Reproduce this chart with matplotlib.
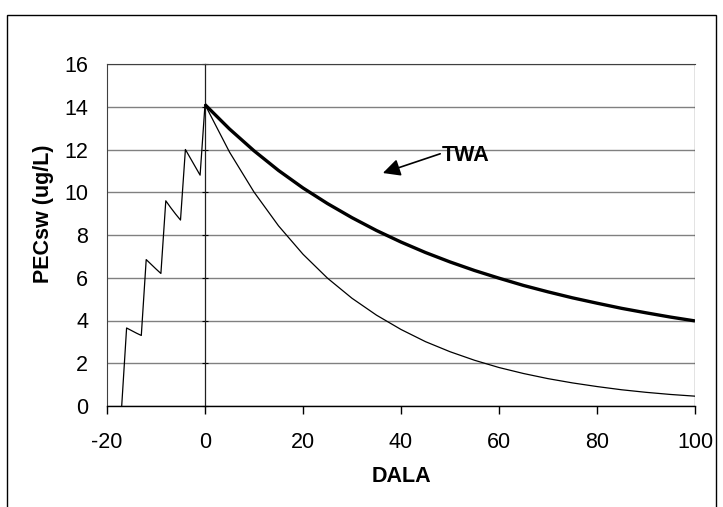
import matplotlib
matplotlib.use("Agg")
import matplotlib.pyplot as plt
from matplotlib.patches import Rectangle

plt.rcParams['font.family'] = ['Liberation Sans', 'DejaVu Sans']

# PEC in surface water: application phase (daily) and decline phase (every 5 days)
days_pre = [-17, -16, -15, -14, -13, -12, -11, -10, -9, -8, -7, -6, -5, -4, -3, -2, -1, 0]
pec_pre = [0.0, 3.65, 3.53, 3.41, 3.30, 6.85, 6.63, 6.41, 6.20, 9.60, 9.28, 8.98, 8.70,
           12.00, 11.60, 11.20, 10.80, 14.10]
days_post = [0, 5, 10, 15, 20, 25, 30, 35, 40, 45, 50, 55, 60, 65, 70, 75, 80, 85, 90, 95, 100]
pec_post = [14.10, 11.88, 10.01, 8.43, 7.10, 5.98, 5.04, 4.25, 3.58, 3.01, 2.54, 2.14, 1.80,
            1.52, 1.28, 1.08, 0.91, 0.76, 0.64, 0.54, 0.46]
twa = [14.10, 12.96, 11.94, 11.02, 10.20, 9.47, 8.81, 8.21, 7.67, 7.18, 6.74, 6.34, 5.98,
       5.64, 5.34, 5.06, 4.81, 4.57, 4.36, 4.16, 3.98]

x_ticks = [-20, 0, 20, 40, 60, 80, 100]
y_ticks = [0, 2, 4, 6, 8, 10, 12, 14, 16]

FS = 15.5

fig = plt.figure(figsize=(7.23, 5.07), dpi=100)
ax = fig.add_axes([107/723, 1-406/507, (695-107)/723, (406-64)/507])

ax.set_xlim(-20, 100)
ax.set_ylim(0, 16)
ax.set_xticks(x_ticks)
ax.set_yticks(y_ticks)
ax.set_xticklabels([str(v) for v in x_ticks])
ax.set_yticklabels([str(v) for v in y_ticks])

ax.grid(axis='y', color='#808080', linewidth=1.0)
ax.grid(axis='x', visible=False)
ax.set_axisbelow(True)

# borders
ax.spines['top'].set_color('#404040')
ax.spines['top'].set_linewidth(0.8)
ax.spines['left'].set_color('#404040')
ax.spines['left'].set_linewidth(0.8)
ax.spines['bottom'].set_color('black')
ax.spines['bottom'].set_linewidth(1.0)
ax.spines['right'].set_position(('data', 0))
ax.spines['right'].set_color('#202020')
ax.spines['right'].set_linewidth(0.9)
ax.axvline(100, color='#202020', linewidth=0.9, zorder=1)

ax.tick_params(axis='y', left=False, right=True, labelleft=True, labelright=False,
               direction='inout', length=5, width=0.8, pad=11, labelsize=FS)
ax.tick_params(axis='x', direction='out', length=6, width=1.0, pad=13, labelsize=FS)

ax.plot(days_pre, pec_pre, color='black', linewidth=0.9, zorder=3)
ax.plot(days_post, pec_post, color='black', linewidth=0.9, zorder=3)
ax.plot(days_post, twa, color='black', linewidth=2.4, zorder=3, solid_capstyle='butt')

ax.annotate('', xy=(36.3, 10.9), xytext=(48.0, 11.8),
            arrowprops=dict(arrowstyle='-|>', color='black', lw=1.2,
                            mutation_scale=26, shrinkA=0, shrinkB=0))
ax.text(48.4, 11.72, 'TWA', fontsize=FS, fontweight='bold', ha='left', va='center')

fig.text(43/723, 1-214/507, 'PECsw (ug/L)', rotation=90, ha='center', va='center',
         fontsize=FS, fontweight='bold')
fig.text(401/723, 1-476/507, 'DALA', ha='center', va='center', fontsize=FS,
         fontweight='bold')

fig.patches.append(Rectangle((7/723, -0.02), (716-7)/723, (507-15)/507 + 0.02,
                             transform=fig.transFigure, fill=False, edgecolor='black',
                             linewidth=1.0))

fig.savefig('out.png', dpi=100)
